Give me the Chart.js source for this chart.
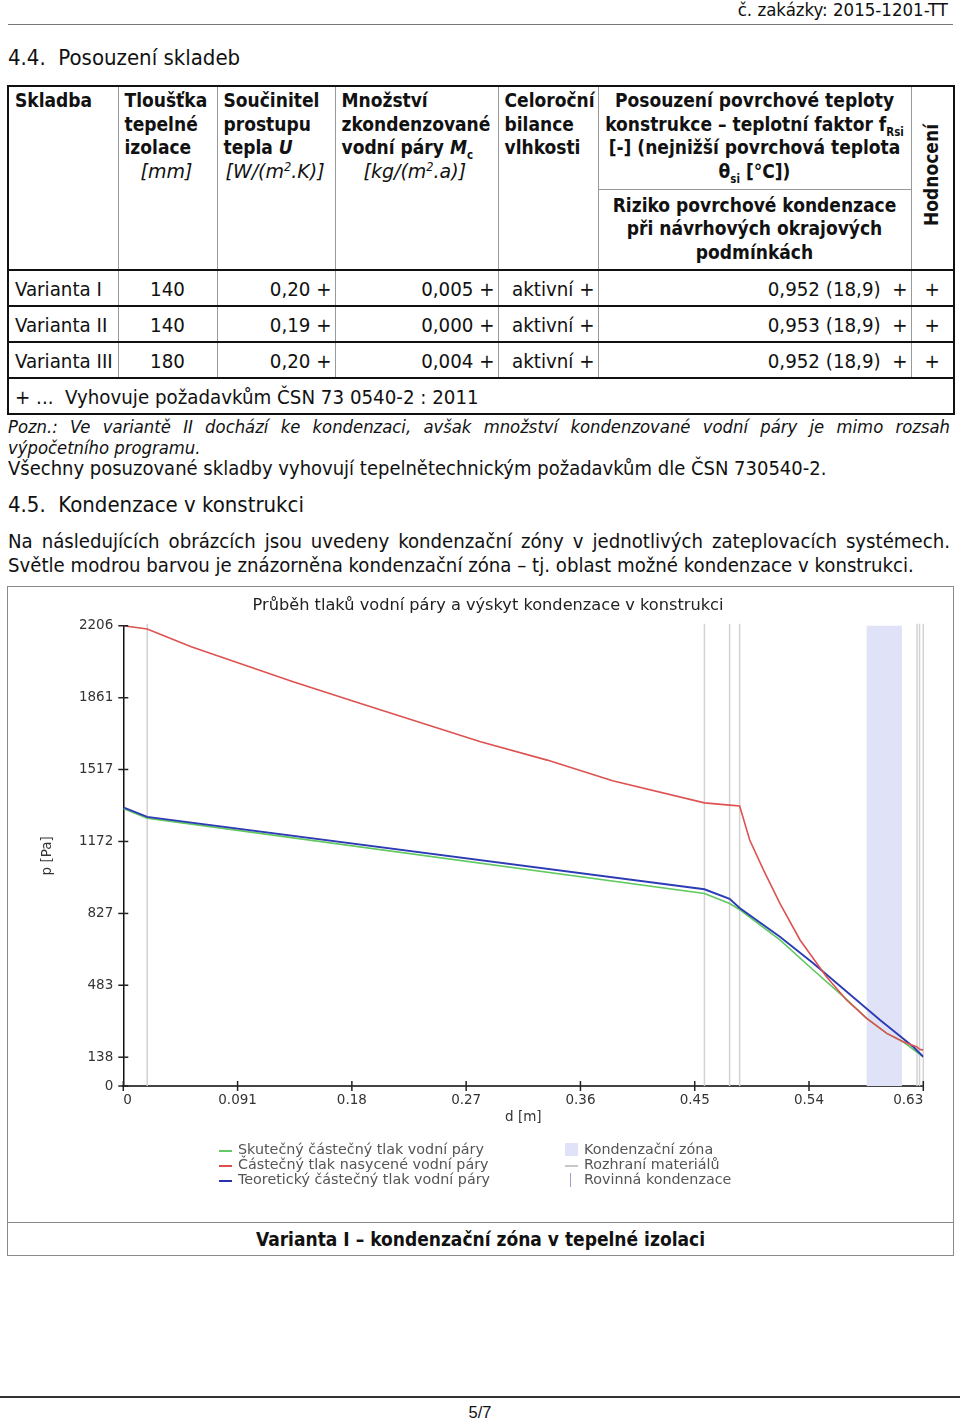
<!DOCTYPE html>
<html lang="cs">
<head>
<meta charset="utf-8">
<title>Kondenzace v konstrukci</title>
<script src="https://cdn.jsdelivr.net/npm/chart.js@4.4.1/dist/chart.umd.min.js"></script>
<style>
  body { margin: 0; width: 960px; height: 1422px; position: relative; background: #fff; color: #111;
         font-family: "DejaVu Sans Condensed", "DejaVu Sans", sans-serif; font-stretch: condensed; }
  .abs { position: absolute; }
  #zak { right: 12px; top: 0; font-size: 18.5px; line-height: 20px; }
  #hr1 { left: 8px; top: 24px; width: 945px; height: 0; border-top: 1px solid #777; }
  h2 { margin: 0; font-weight: normal; font-size: 22px; line-height: 26px; }
  #t { left: 7px; top: 85px; width: 946px; border-collapse: collapse; table-layout: fixed; border: 2px solid #111; }
  #t td { border-left: 1px solid #999; border-right: 1px solid #999; padding: 2px 6px 0 6px; font-size: 20.3px; white-space: nowrap; }
  #t tr { border-top: 2px solid #111; }
  #t th { border-left: 1px solid #999; border-right: 1px solid #999; font-size: 19px; line-height: 23.7px; text-align: left;
          vertical-align: top; padding: 2px 6px 0 6px; white-space: nowrap; }
  #t th i.u { font-weight: normal; font-family: "DejaVu Sans", sans-serif; font-stretch: normal; }
  #t th.c { text-align: center; padding-left: 2px; padding-right: 2px; }
  #t tr.h2 { border-top: 1px solid #999; }
  #t td.r { text-align: right; padding-right: 3px; }
  #t td.m { text-align: center; }
  sub, sup { font-size: 60%; line-height: 0; }
  .rot { writing-mode: vertical-rl; transform: rotate(180deg); display: inline-block; }
  .txt { left: 8px; width: 942px; font-size: 20px; line-height: 21px; }
  .it { font-style: italic; font-size: 18.3px; }
  .just { text-align: justify; text-align-last: justify; }
  #box { left: 7px; top: 586px; width: 945px; height: 668px; border: 1px solid #8a8a8a; }
  #sep { left: 8px; top: 1222px; width: 945px; height: 0; border-top: 1px solid #8a8a8a; }
  #cap { left: 8px; top: 1226px; width: 945px; text-align: center; font-size: 19px; font-weight: bold; line-height: 26px; }
  #chart { position: absolute; left: 9px; top: 588px; }
  .lg { position: absolute; font-family: "DejaVu Sans", sans-serif; font-stretch: normal; font-size: 14.3px; line-height: 15px; color: #555; white-space: nowrap; }
  .sw { position: absolute; }
  #hr2 { left: 0; top: 1396px; width: 960px; height: 0; border-top: 2px solid #333; }
  #pg { left: 0; top: 1402px; width: 960px; text-align: center; font-family: "Liberation Sans", sans-serif; font-stretch: normal; font-size: 16.5px; line-height: 20px; }
</style>
</head>
<body>
<div id="zak" class="abs">č. zakázky: 2015-1201-TT</div>
<div id="hr1" class="abs"></div>
<h2 class="abs" style="left:8px; top:45px;">4.4.&nbsp; Posouzení skladeb</h2>

<table id="t" class="abs">
  <colgroup>
    <col style="width:110px"><col style="width:99px"><col style="width:118px"><col style="width:163px">
    <col style="width:100px"><col style="width:313px"><col style="width:43px">
  </colgroup>
  <tr style="height:103px">
    <th rowspan="2">Skladba</th>
    <th rowspan="2">Tloušťka<br>tepelné<br>izolace<br><span style="padding-left:16px"><i class="u">[mm]</i></span></th>
    <th rowspan="2">Součinitel<br>prostupu<br>tepla <i>U</i><br><span style="padding-left:2px"><i class="u">[W/(m<sup>2</sup>.K)]</i></span></th>
    <th rowspan="2">Množství<br>zkondenzované<br>vodní páry <i>M</i><sub>c</sub><br><span style="padding-left:22px"><i class="u">[kg/(m<sup>2</sup>.a)]</i></span></th>
    <th rowspan="2">Celoroční<br>bilance<br>vlhkosti</th>
    <th class="c">Posouzení povrchové teploty<br>konstrukce – teplotní faktor f<sub>Rsi</sub><br>[-] (nejnižší povrchová teplota<br>θ<sub>si</sub> [°C])</th>
    <th rowspan="2" style="vertical-align:middle; text-align:center; padding:0;"><span class="rot">Hodnocení</span></th>
  </tr>
  <tr class="h2" style="height:81px">
    <th class="c" style="padding-top:4px">Riziko povrchové kondenzace<br>při návrhových okrajových<br>podmínkách</th>
  </tr>
  <tr style="height:36px">
    <td>Varianta I</td><td class="m">140</td><td class="r">0,20 +</td><td class="r">0,005 +</td>
    <td class="r">aktivní +</td><td class="r">0,952 (18,9)&nbsp; +</td><td class="m">+</td>
  </tr>
  <tr style="height:36px">
    <td>Varianta II</td><td class="m">140</td><td class="r">0,19 +</td><td class="r">0,000 +</td>
    <td class="r">aktivní +</td><td class="r">0,953 (18,9)&nbsp; +</td><td class="m">+</td>
  </tr>
  <tr style="height:36px">
    <td>Varianta III</td><td class="m">180</td><td class="r">0,20 +</td><td class="r">0,004 +</td>
    <td class="r">aktivní +</td><td class="r">0,952 (18,9)&nbsp; +</td><td class="m">+</td>
  </tr>
  <tr style="height:36px">
    <td colspan="7">+ ...&nbsp; Vyhovuje požadavkům ČSN 73 0540-2 : 2011</td>
  </tr>
</table>

<div class="abs txt" style="top:416px;">
  <div class="just it">Pozn.: Ve variantě II dochází ke kondenzaci, avšak množství kondenzované vodní páry je mimo rozsah</div>
  <div class="it">výpočetního programu.</div>
  <div>Všechny posuzované skladby vyhovují tepelnětechnickým požadavkům dle ČSN 730540-2.</div>
</div>
<h2 class="abs" style="left:8px; top:492px;">4.5.&nbsp; Kondenzace v konstrukci</h2>
<div class="abs txt" style="top:529px; line-height:24px; font-size:20.2px;">
  <div class="just">Na následujících obrázcích jsou uvedeny kondenzační zóny v jednotlivých zateplovacích systémech.</div>
  <div>Světle modrou barvou je znázorněna kondenzační zóna – tj. oblast možné kondenzace v konstrukci.</div>
</div>

<div id="box" class="abs"></div>
<canvas id="chart" width="943" height="633"></canvas>
<div id="sep" class="abs"></div>
<div id="cap" class="abs">Varianta I – kondenzační zóna v tepelné izolaci</div>

<!-- legenda grafu -->
<div class="sw" style="left:219px; top:1150px; width:13px; height:2px; background:rgb(100,200,100);"></div>
<div class="lg" style="left:238px; top:1142px;">Skutečný částečný tlak vodní páry</div>
<div class="sw" style="left:219px; top:1165px; width:13px; height:2px; background:rgb(220,80,80);"></div>
<div class="lg" style="left:238px; top:1157px;">Částečný tlak nasycené vodní páry</div>
<div class="sw" style="left:219px; top:1180px; width:13px; height:2px; background:rgb(40,50,170);"></div>
<div class="lg" style="left:238px; top:1172px;">Teoretický částečný tlak vodní páry</div>

<div class="sw" style="left:565px; top:1143px; width:13px; height:13px; background:rgb(224,226,248);"></div>
<div class="lg" style="left:584px; top:1142px;">Kondenzační zóna</div>
<div class="sw" style="left:565px; top:1165px; width:13px; height:2px; background:#c8c8c8;"></div>
<div class="lg" style="left:584px; top:1157px;">Rozhraní materiálů</div>
<div class="sw" style="left:570px; top:1173px; width:1px; height:14px; background:#9aa0c8;"></div>
<div class="lg" style="left:584px; top:1172px;">Rovinná kondenzace</div>

<div id="hr2" class="abs"></div>
<div id="pg" class="abs">5/7</div>

<script>
// souradnice d [m] a tlaky p [Pa]
const dSat = [0, 0.019, 0.054, 0.135, 0.188, 0.284, 0.337, 0.389, 0.462, 0.482, 0.490, 0.498, 0.509, 0.522, 0.538, 0.559, 0.575, 0.591, 0.607, 0.620, 0.631, 0.633, 0.636];
const pSat = [2206, 2190, 2105, 1938, 1835, 1650, 1562, 1463, 1357, 1346, 1342, 1179, 1035, 875, 700, 524, 412, 324, 252, 212, 187, 176, 172];

const dTheor = [0, 0.019, 0.462, 0.482, 0.490, 0.522, 0.5485, 0.6016, 0.628, 0.636];
const pTheor = [1335, 1290, 943, 897, 853, 715, 588, 316, 188, 140];

const dReal = [0, 0.019, 0.462, 0.482, 0.490, 0.522, 0.5485, 0.575, 0.591, 0.607, 0.620, 0.636];
const pReal = [1330, 1284, 923, 875, 846, 700, 556, 415, 324, 252, 212, 140];

const interfaces = [0.019, 0.462, 0.482, 0.490, 0.631, 0.633, 0.636];
const condZone = [0.591, 0.619];

const xMax = 0.636;
const xTickLabels = ['0', '0.091', '0.18', '0.27', '0.36', '0.45', '0.54', '0.63'];
const yTicks = [0, 138, 483, 827, 1172, 1517, 1861, 2206];

const toXY = (xs, ys) => xs.map((v, i) => ({x: v, y: ys[i]}));
const axisFont = { family: 'DejaVu Sans', size: 13.5 };

const guides = {
  id: 'guides',
  beforeDatasetsDraw(chart) {
    const {ctx, scales: {x, y}} = chart;
    const top = y.getPixelForValue(yTicks[yTicks.length - 1]);
    const bottom = y.getPixelForValue(0);
    ctx.save();
    ctx.fillStyle = 'rgb(224,226,248)';
    const z0 = x.getPixelForValue(condZone[0]);
    const z1 = x.getPixelForValue(condZone[1]);
    ctx.fillRect(z0, top, z1 - z0, bottom - top);
    ctx.strokeStyle = '#d2d2d2';
    ctx.lineWidth = 1.5;
    interfaces.forEach(d => {
      const px = x.getPixelForValue(d);
      ctx.beginPath();
      ctx.moveTo(px, top - 2);
      ctx.lineTo(px, bottom);
      ctx.stroke();
    });
    ctx.restore();
  },
  afterDraw(chart) {
    // znacky os pres osu
    const {ctx, scales: {x, y}} = chart;
    ctx.save();
    ctx.strokeStyle = '#222';
    ctx.lineWidth = 1.5;
    y.ticks.forEach(t => {
      const py = y.getPixelForValue(t.value);
      ctx.beginPath();
      ctx.moveTo(x.left - 5, py);
      ctx.lineTo(x.left + 5, py);
      ctx.stroke();
    });
    x.ticks.forEach(t => {
      const px = x.getPixelForValue(t.value);
      ctx.beginPath();
      ctx.moveTo(px, y.bottom - 5);
      ctx.lineTo(px, y.bottom + 5);
      ctx.stroke();
    });
    ctx.restore();
  }
};

var chart = new Chart(document.getElementById('chart'), {
  type: 'scatter',
  data: {
    datasets: [
      { label: 'Částečný tlak nasycené vodní páry', data: toXY(dSat, pSat),
        borderColor: 'rgb(222,82,82)', borderWidth: 1.6, showLine: true },
      { label: 'Teoretický částečný tlak vodní páry', data: toXY(dTheor, pTheor),
        borderColor: 'rgb(45,60,180)', borderWidth: 1.9, showLine: true },
      { label: 'Skutečný částečný tlak vodní páry', data: toXY(dReal, pReal),
        borderColor: 'rgb(95,200,95)', borderWidth: 1.6, showLine: true }
    ]
  },
  options: {
    responsive: false,
    animation: false,
    elements: { point: { radius: 0 }, line: { tension: 0 } },
    layout: { padding: { left: 43.7, right: 28.7, top: 0, bottom: 0 } },
    plugins: {
      legend: { display: false },
      tooltip: { enabled: false },
      title: {
        display: true,
        text: 'Průběh tlaků vodní páry a výskyt kondenzace v konstrukci',
        color: '#222',
        font: { family: 'DejaVu Sans', size: 16.2, weight: 'normal' },
        padding: { top: 8.5, bottom: 9.8 }
      }
    },
    scales: {
      x: {
        type: 'linear', min: 0, max: xMax,
        grid: { display: false, drawTicks: false },
        border: { display: true, color: '#444', width: 2 },
        afterBuildTicks: s => { s.ticks = xTickLabels.map((l, i) => ({ value: i * xMax / 7 })); },
        afterFit: s => { s.height = 135; },
        ticks: {
          autoSkip: false, maxRotation: 0, padding: 6, color: '#333', align: 'inner',
          font: axisFont,
          callback: (v, i) => xTickLabels[i]
        },
        title: { display: true, text: 'd [m]', color: '#333',
          font: axisFont, padding: { top: 0, bottom: 95 } }
      },
      y: {
        min: 0, max: yTicks[yTicks.length - 1],
        grid: { display: false, drawTicks: false },
        border: { display: true, color: '#111', width: 1.5 },
        afterBuildTicks: s => { s.ticks = yTicks.map(v => ({ value: v })); },
        afterFit: s => { s.width = 70.6; },
        ticks: {
          autoSkip: false, padding: 10, color: '#333',
          font: axisFont,
          callback: v => String(v)
        },
        title: { display: true, text: 'p [Pa]', color: '#333',
          font: axisFont, padding: { top: -13.8, bottom: 0 } }
      }
    }
  },
  plugins: [guides]
});
</script>
</body>
</html>
